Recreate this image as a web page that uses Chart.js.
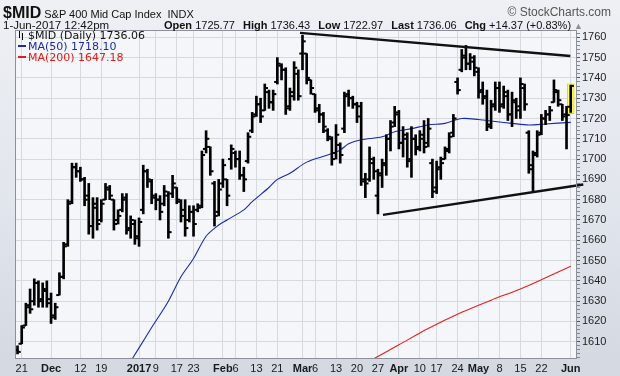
<!DOCTYPE html>
<html>
<head>
<meta charset="utf-8">
<title>$MID S&amp;P 400 Mid Cap Index</title>
<script src="https://cdn.jsdelivr.net/npm/chart.js@4.4.1/dist/chart.umd.min.js"></script>
<style>
  html, body { margin: 0; padding: 0; }
  body {
    width: 620px; height: 376px; overflow: hidden; position: relative;
    background: linear-gradient(to bottom, #eef0f4 0%, #e1e5ec 55%, #d3d8e1 100%);
    font-family: "Liberation Sans", Arial, sans-serif; color: #111;
  }
  #chart { position: absolute; left: 0; top: 0; }
  .txt { position: absolute; white-space: nowrap; }
  #sym { left: 3px; top: 4px; font-size: 11px; }
  #sym b { font-size: 16px; margin-right: 3px; }
  #sym .ex { margin-left: 6px; font-size: 11px; }
  #brand { right: 9px; top: 5px; font-size: 12px; color: #555; }
  #stamp { left: 3px; top: 19px; font-size: 11.5px; }
  #quote { right: 37px; top: 19px; font-size: 11px; }
  #quote b { margin-left: 5px; font-size: 11px; }
  #quote .up { color: #8a8f99; font-size: 9px; margin-left: 3px; }
  #legend { left: 18px; top: 31px; font-family: "DejaVu Sans", Verdana, sans-serif; font-size: 11px; line-height: 10.8px; }
  .glyph { display: inline-block; width: 7px; height: 9px; position: relative; margin-right: 3px; vertical-align: -1px; }
  .glyph i { position: absolute; width: 1px; background: #000; }
  .glyph i:nth-child(1) { left: 1px; top: 0; height: 7px; }
  .glyph i:nth-child(2) { left: 4px; top: 2px; height: 7px; }
  .sw { display: inline-block; width: 8px; height: 2px; vertical-align: 3px; margin-right: 2px; }
</style>
</head>
<body>
<canvas id="chart" width="620" height="376"></canvas>

<div class="txt" id="sym"><b>$MID</b>S&amp;P 400 Mid Cap Index<span class="ex">INDX</span></div>
<div class="txt" id="brand">© StockCharts.com</div>
<div class="txt" id="stamp">1-Jun-2017 12:42pm</div>
<div class="txt" id="quote"><b style="margin-left:0">Open</b> 1725.77 <b>High</b> 1736.43 <b>Low</b> 1722.97 <b>Last</b> 1736.06 <b>Chg</b> +14.37 (+0.83%)<span class="up">▲</span></div>
<div class="txt" id="legend">
  <div><span class="glyph"><i></i><i></i></span>$MID (Daily) 1736.06</div>
  <div style="color:#1c2aa8"><span class="sw" style="background:#1c2aa8"></span>MA(50) 1718.10</div>
  <div style="color:#d8201c"><span class="sw" style="background:#d8201c"></span>MA(200) 1647.18</div>
</div>

<script>
// daily bars, 18-Nov-2016 .. 1-Jun-2017 (index 0 = 18 Nov)
const opens = [
  1606, 1609, 1618, 1628, 1630, 1639, 1631, 1635, 1631, 1623,
  1633, 1642, 1658, 1679, 1696, 1694, 1690, 1682, 1667, 1676,
  1670, 1680, 1685, 1680, 1670, 1675, 1681, 1666, 1668, 1661,
  1675, 1694, 1689, 1681, 1680, 1678, 1682, 1683, 1686, 1679,
  1675, 1670, 1674, 1675, 1677, 1705, 1706, 1688, 1674, 1688,
  1690, 1700, 1703, 1700, 1692, 1699, 1714, 1722, 1727, 1724,
  1733, 1728, 1738, 1746, 1744, 1726, 1731, 1742, 1752, 1752,
  1739, 1732, 1724, 1722, 1714, 1710, 1703, 1707, 1715, 1732,
  1730, 1727, 1726, 1690, 1690, 1698, 1682, 1692, 1697, 1710,
  1718, 1722, 1708, 1710, 1700, 1710, 1706, 1710, 1708, 1698,
  1686, 1696, 1700, 1705, 1713, 1738, 1744, 1750, 1747, 1748,
  1743, 1734, 1731, 1716, 1727, 1735, 1727, 1731, 1722, 1728,
  1726, 1735, 1713, 1697, 1703, 1713, 1720, 1722, 1728, 1733,
  1727, 1722, 1725.77
];
const highs = [
  1608, 1618, 1629, 1636, 1641, 1640, 1639, 1640, 1634, 1629,
  1644, 1659, 1680, 1698, 1698, 1696, 1691, 1688, 1681, 1681,
  1680, 1688, 1687, 1680, 1675, 1683, 1683, 1672, 1670, 1671,
  1697, 1695, 1690, 1683, 1682, 1687, 1684, 1692, 1686, 1680,
  1680, 1677, 1677, 1678, 1704, 1714, 1706, 1689, 1690, 1700,
  1690, 1707, 1704, 1704, 1696, 1713, 1723, 1731, 1730, 1737,
  1734, 1734, 1750, 1747, 1745, 1735, 1748, 1744, 1761, 1752,
  1739, 1732, 1727, 1723, 1715, 1711, 1717, 1708, 1733, 1734,
  1731, 1728, 1728, 1693, 1706, 1701, 1695, 1700, 1712, 1719,
  1726, 1724, 1716, 1713, 1716, 1712, 1714, 1719, 1720, 1700,
  1699, 1701, 1706, 1713, 1722, 1740, 1754, 1756, 1752, 1751,
  1745, 1738, 1734, 1729, 1738, 1738, 1736, 1734, 1733, 1730,
  1740, 1737, 1714, 1704, 1714, 1722, 1724, 1726, 1739, 1734,
  1727, 1726, 1736.43
];
const lows = [
  1604, 1609, 1618, 1624, 1628, 1627, 1627, 1627, 1619, 1621,
  1633, 1641, 1657, 1678, 1691, 1689, 1677, 1663, 1661, 1665,
  1669, 1680, 1680, 1665, 1668, 1674, 1663, 1661, 1658, 1657,
  1673, 1686, 1678, 1675, 1670, 1677, 1661, 1681, 1678, 1669,
  1662, 1669, 1662, 1674, 1676, 1703, 1692, 1667, 1672, 1686,
  1677, 1695, 1696, 1690, 1684, 1698, 1713, 1721, 1718, 1724,
  1725, 1724, 1737, 1739, 1722, 1724, 1729, 1729, 1744, 1737,
  1732, 1723, 1718, 1713, 1709, 1697, 1700, 1698, 1713, 1726,
  1725, 1718, 1687, 1681, 1689, 1690, 1673, 1686, 1692, 1704,
  1716, 1705, 1701, 1696, 1691, 1702, 1704, 1703, 1706, 1681,
  1683, 1690, 1700, 1703, 1711, 1732, 1743, 1744, 1744, 1741,
  1730, 1727, 1714, 1715, 1724, 1723, 1725, 1719, 1716, 1720,
  1720, 1724, 1693, 1684, 1701, 1712, 1717, 1719, 1728, 1726,
  1719, 1705, 1722.97
];
const closes = [
  1605, 1617, 1627, 1626, 1639, 1630, 1636, 1629, 1622, 1627,
  1642, 1657, 1678, 1696, 1694, 1690, 1680, 1667, 1678, 1668,
  1678, 1686, 1682, 1668, 1672, 1680, 1665, 1670, 1662, 1669,
  1694, 1690, 1682, 1680, 1674, 1684, 1664, 1688, 1680, 1672,
  1666, 1674, 1668, 1676, 1702, 1710, 1694, 1672, 1685, 1697,
  1682, 1705, 1700, 1692, 1690, 1711, 1721, 1727, 1721, 1735,
  1728, 1732, 1747, 1744, 1725, 1733, 1745, 1731, 1758, 1740,
  1735, 1725, 1722, 1716, 1711, 1700, 1712, 1702, 1731, 1730,
  1727, 1721, 1689, 1688, 1700, 1694, 1693, 1698, 1710, 1716,
  1723, 1708, 1712, 1699, 1710, 1705, 1712, 1706, 1715, 1684,
  1695, 1698, 1704, 1711, 1720, 1734, 1751, 1747, 1750, 1745,
  1733, 1730, 1717, 1726, 1735, 1726, 1733, 1722, 1729, 1724,
  1737, 1727, 1695, 1702, 1712, 1720, 1722, 1724, 1734, 1729,
  1721, 1721.69, 1736.06
];

// moving averages (bar index, value)
const ma50Days = [26, 29, 32, 36, 39, 42, 45, 48, 50, 54, 56, 60, 62, 65, 69, 74, 77, 79, 82, 87, 90, 94, 98, 102, 106, 110, 114, 118, 122, 126, 132];
const ma50 = [1597, 1607, 1617, 1630, 1642, 1651, 1662, 1667.5, 1670, 1675, 1679, 1686, 1690, 1693, 1698.5, 1702, 1704.5, 1707.5, 1709.5, 1711, 1713.5, 1715, 1716.8, 1717.6, 1720, 1719.5, 1718.5, 1717.6, 1716.8, 1717.3, 1718.1];
const ma200Days = [84, 91, 98, 106, 113, 120, 126, 132];
const ma200 = [1600.5, 1608.5, 1616.5, 1624.5, 1630.5, 1636, 1641.5, 1647.18];

// hand-drawn trend lines
const upperDays = [67.4, 131.9];
const upperVals = [1762.2, 1750.8];
const lowerDays = [87.2, 135];
const lowerVals = [1672.5, 1687.5];

// axes
const tickDays = [1, 8, 15, 20, 29, 33, 38, 42, 49, 52, 57, 62, 68, 71, 76, 81, 86, 91, 96, 100, 105, 110, 115, 120, 125, 132];
const tickLabels = ['21', 'Dec', '12', '19', '2017', '9', '17', '23', 'Feb', '6', '13', '21', 'Mar', '6', '13', '20', '27', 'Apr', '10', '17', '24', 'May', '8', '15', '22', 'Jun'];
const tickBold = ['Dec', '2017', 'Feb', 'Mar', 'Apr', 'May', 'Jun'];
const yMin = 1601.5, yMax = 1763.6;
const yStep = 10, yMinorStep = 2;

const last = closes.length - 1;
const pts = (xs, ys) => xs.map((x, i) => ({ x: x, y: ys[i] }));

// plot background + frame
const plotFrame = {
  id: 'plotFrame',
  beforeDraw(chart) {
    const { ctx, chartArea: a } = chart;
    ctx.save();
    ctx.fillStyle = '#f5f6fa';
    ctx.fillRect(a.left, a.top, a.right - a.left, a.bottom - a.top);
    ctx.restore();
  },
  afterDraw(chart) {
    const { ctx, chartArea: a } = chart;
    ctx.save();
    ctx.strokeStyle = '#8b909a';
    ctx.lineWidth = 1;
    ctx.strokeRect(Math.round(a.left) + 0.5, Math.round(a.top) + 0.5, Math.round(a.right - a.left) - 1, Math.round(a.bottom - a.top) - 1);
    ctx.restore();
  }
};

const tickStyle = {
  type: 'line', showLine: false, pointStyle: 'dash', pointRadius: 3.2,
  pointBorderWidth: 2, pointBorderColor: '#000', pointBackgroundColor: '#000', order: 1
};

const isMajor = v => Math.abs(v % yStep) < 1e-6;

new Chart(document.getElementById('chart'), {
  type: 'line',
  data: {
    datasets: [
      {
        // yellow marker behind the latest bar
        type: 'bar', grouped: false, barThickness: 7, order: 9,
        data: [{ x: last, y: [lows[last] - 0.6, highs[last] + 0.6] }],
        backgroundColor: '#ffff55', borderColor: '#e8d400', borderWidth: 1, borderSkipped: false
      },
      {
        type: 'bar', grouped: false, barThickness: 2, order: 2,
        data: highs.map((h, i) => ({ x: i, y: [lows[i], h] })),
        backgroundColor: '#000', borderWidth: 0
      },
      Object.assign({ data: pts(opens.map((v, i) => i), opens), pointRotation: 180 }, tickStyle),
      Object.assign({ data: pts(closes.map((v, i) => i), closes), pointRotation: 0 }, tickStyle),
      {
        type: 'line', data: pts(ma50Days, ma50), borderColor: '#1c2aa8', borderWidth: 1.1,
        pointRadius: 0, tension: 0.3, order: 3
      },
      {
        type: 'line', data: pts(ma200Days, ma200), borderColor: '#e0201b', borderWidth: 1.1,
        pointRadius: 0, tension: 0.3, order: 3
      },
      {
        type: 'line', data: pts(upperDays, upperVals), borderColor: '#111', borderWidth: 2.4,
        pointRadius: 0, order: 0
      },
      {
        type: 'line', data: pts(lowerDays, lowerVals), borderColor: '#111', borderWidth: 2.4,
        pointRadius: 0, order: 0, clip: { left: 0, top: 0, right: 8, bottom: 0 }
      }
    ]
  },
  options: {
    responsive: false,
    animation: false,
    events: [],
    layout: { padding: { left: 15, top: 30, right: 0, bottom: 0 } },
    plugins: { legend: { display: false }, tooltip: { enabled: false } },
    scales: {
      x: {
        type: 'linear', min: -0.6, max: 133.5, offset: false,
        afterBuildTicks: s => { s.ticks = tickDays.map(v => ({ value: v })); },
        afterFit: s => { s.height = 17; },
        grid: { color: '#d6d9e0', drawTicks: false, offset: false },
        border: { display: false },
        ticks: {
          autoSkip: false, maxRotation: 0, padding: 3, color: '#1a1a1a',
          callback: (v, i) => tickLabels[i],
          font: c => ({ family: 'Liberation Sans', size: 11, weight: tickBold.includes(tickLabels[c.index]) ? 'bold' : 'normal' })
        }
      },
      y: {
        type: 'linear', position: 'right', min: yMin, max: yMax, beginAtZero: false,
        afterBuildTicks: s => {
          const t = [];
          for (let v = Math.ceil(yMin / yMinorStep) * yMinorStep; v <= yMax; v += yMinorStep) t.push({ value: v });
          s.ticks = t;
        },
        afterFit: s => { s.width = 43; },
        grid: {
          color: c => isMajor(c.tick.value) ? '#d6d9e0' : 'rgba(0,0,0,0)',
          tickColor: c => isMajor(c.tick.value) ? '#555' : '#888',
          tickLength: 3
        },
        border: { display: false },
        ticks: {
          autoSkip: false, padding: 2, color: '#222', font: { family: 'Liberation Sans', size: 11 },
          callback: v => isMajor(v) ? String(v) : ''
        }
      }
    }
  },
  plugins: [plotFrame]
});
</script>
</body>
</html>
